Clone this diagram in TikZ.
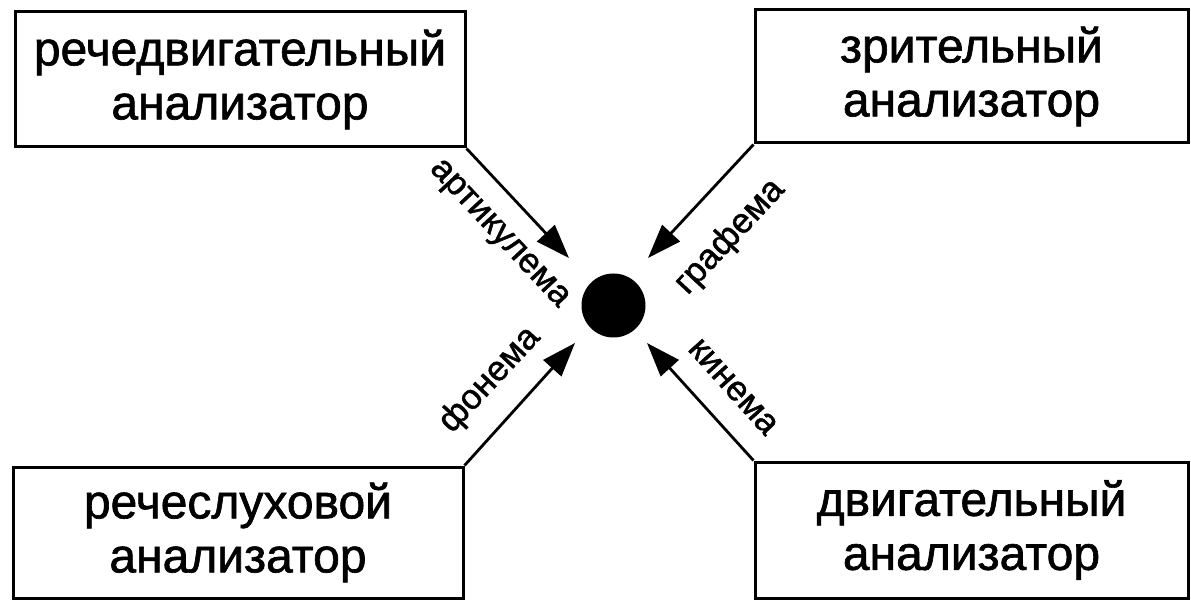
\documentclass[tikz,border=0pt]{standalone}
\usepackage{fontspec}
\setmainfont{Liberation Sans}
\newfontface\hv{Liberation Sans}[FakeBold=1.3]
\usetikzlibrary{arrows.meta}
\tikzset{
  box/.style={draw, line width=3pt, minimum width=#1, inner sep=0pt, align=center,
    font=\hv\fontsize{48}{54}\selectfont},
  lbl/.style={font=\hv\fontsize{35}{38}\selectfont, inner sep=0pt},
  arr/.style={line width=2.8pt, -{Triangle[length=34pt,width=24pt]}},
  dotnode/.style={circle, fill=black, minimum size=64pt, inner sep=0pt}
}
\begin{document}
\begin{tikzpicture}[x=1pt,y=-1pt]
\useasboundingbox[fill=white] (0,0) rectangle (1191,601);
\node[box=450pt, minimum height=135pt] (tl) at (240,79.5) {речедвигательный\\анализатор};
\node[box=433pt, minimum height=133pt] (tr) at (971.5,76.5) {зрительный\\анализатор};
\node[box=450pt, minimum height=131pt] (bl) at (238,532.5) {речеслуховой\\анализатор};
\node[box=433pt, minimum height=136pt] (br) at (971.5,530) {двигательный\\анализатор};
\node[dotnode] (c) at (613.5,305.5) {};
\coordinate (ta) at (569,258);
\coordinate (tg) at (648,258);
\coordinate (tf) at (575,343);
\coordinate (tk) at (647,343);
\draw[arr] (tl.south east) -- (ta);
\draw[arr] (tr.south west) -- (tg);
\draw[arr] (bl.north east) -- (tf);
\draw[arr] (br.north west) -- (tk);
\node[lbl, rotate=-47] (la) at (498,235) {артикулема};
\node[lbl, rotate=47] (lg) at (730,237) {графема};
\node[lbl, rotate=47] (lf) at (490,380) {фонема};
\node[lbl, rotate=-48] (lk) at (733,387) {кинема};
\end{tikzpicture}
\end{document}
